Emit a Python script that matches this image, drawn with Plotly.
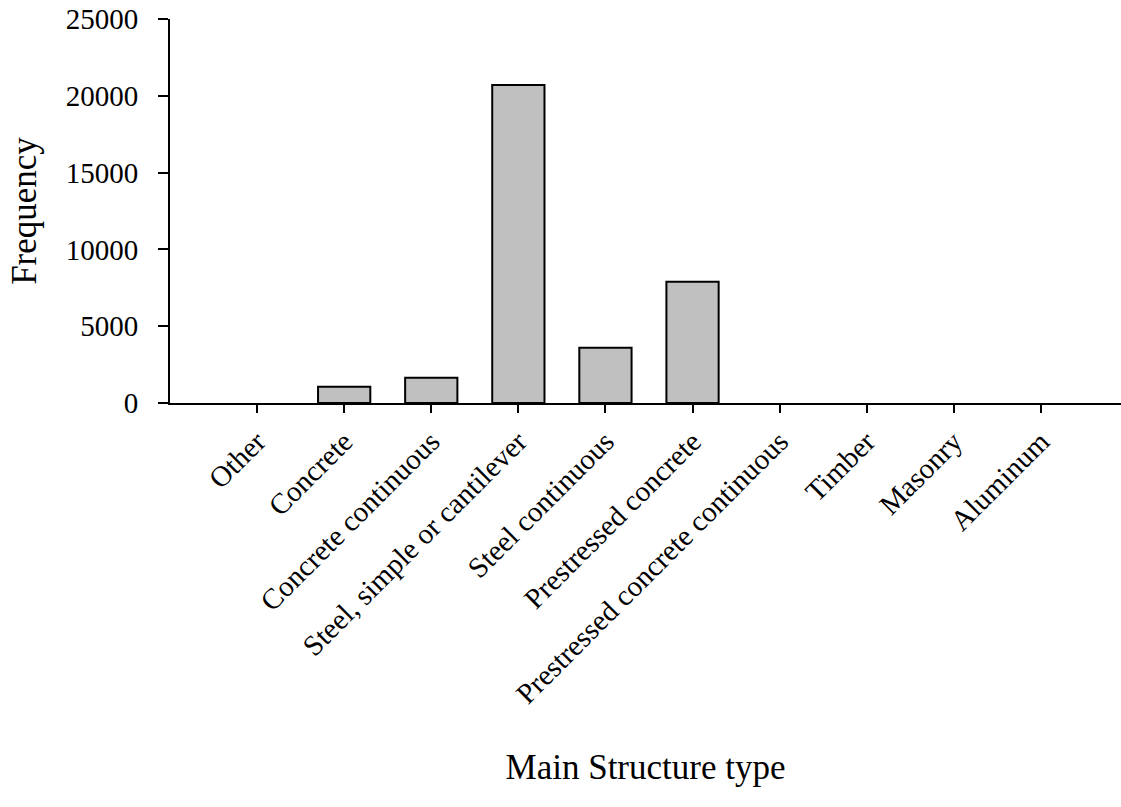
import plotly.graph_objects as go

# Bridge counts by main structure type
categories = [
    "Other",
    "Concrete",
    "Concrete continuous",
    "Steel, simple or cantilever",
    "Steel continuous",
    "Prestressed concrete",
    "Prestressed concrete continuous",
    "Timber",
    "Masonry",
    "Aluminum",
]
frequency = [0, 1050, 1650, 20700, 3600, 7900, 0, 0, 0, 0]
y_ticks = [0, 5000, 10000, 15000, 20000, 25000]

FONT = "Liberation Serif, Times New Roman, serif"

# empty categories get no outline so nothing sits on the baseline
outline_widths = [2 if v > 0 else 0 for v in frequency]

fig = go.Figure(
    go.Bar(
        x=list(range(len(categories))),
        y=frequency,
        width=0.6,
        marker=dict(color="#c0c0c0", line=dict(color="black", width=outline_widths)),
    )
)

fig.update_layout(
    width=1121,
    height=807,
    margin=dict(l=170, r=0, t=19, b=404),
    paper_bgcolor="white",
    plot_bgcolor="white",
    font=dict(family=FONT, size=29, color="black"),
    showlegend=False,
)

fig.update_xaxes(
    range=[-1, 9.92],
    tickmode="array",
    tickvals=list(range(len(categories))),
    ticktext=categories,
    tickangle=-45,
    showline=True,
    linecolor="black",
    linewidth=2,
    ticks="outside",
    ticklen=8,
    tickwidth=2,
    tickcolor="black",
    showgrid=False,
    zeroline=False,
    title=dict(text="Main Structure type", standoff=46),
    automargin=False,
)

fig.update_yaxes(
    range=[0, 25000],
    tickmode="array",
    tickvals=y_ticks,
    ticktext=[str(v) for v in y_ticks],
    showline=True,
    linecolor="black",
    linewidth=2,
    ticks="outside",
    ticklen=10,
    tickwidth=2,
    tickcolor="black",
    ticklabelstandoff=14,
    showgrid=False,
    zeroline=False,
    title=dict(text="Frequency", standoff=18),
    automargin=False,
)

fig.write_html("out.html")
